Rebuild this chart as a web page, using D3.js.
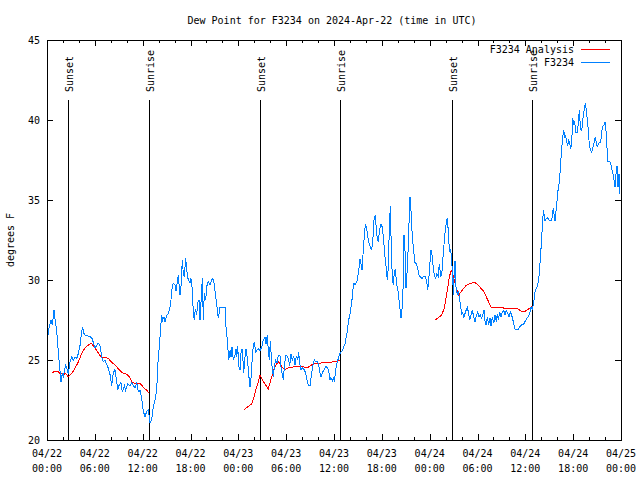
<!DOCTYPE html>
<html><head><meta charset="utf-8">
<script src="https://cdn.jsdelivr.net/npm/d3@7/dist/d3.min.js"></script>
<style>
html,body{margin:0;padding:0;background:#fff;}
svg{display:block;}
text{font-family:"DejaVu Sans Mono","Liberation Mono",monospace;font-size:10px;fill:#000;}
</style></head><body>
<svg id="chart" width="640" height="480"></svg>
<script>
// ---- data (hours since 2024-04-22 00:00 UTC, dew point in °F) ----
const stationHours = [0.00,0.25,0.50,0.66,0.88,1.00,1.22,1.42,1.63,1.76,1.92,2.04,2.17,2.35,2.47,2.67,2.89,3.10,3.30,3.51,3.73,3.93,4.14,4.35,4.48,4.60,4.77,5.18,5.61,5.81,6.02,6.23,6.44,6.65,6.86,7.06,7.28,7.49,7.69,7.90,8.12,8.32,8.53,8.74,8.87,9.03,9.28,9.45,9.70,9.87,10.12,10.41,10.62,10.83,11.04,11.25,11.45,11.67,11.88,12.08,12.29,12.51,12.71,12.92,13.13,13.33,13.55,13.76,13.84,13.96,14.09,14.26,14.39,14.51,14.68,14.80,15.02,15.22,15.43,15.55,15.72,15.84,16.06,16.18,16.35,16.47,16.68,16.81,16.97,17.10,17.22,17.40,17.52,17.72,17.94,18.06,18.23,18.35,18.48,18.60,18.78,18.90,19.07,19.19,19.41,19.48,19.61,19.73,19.91,20.03,20.23,20.45,20.66,20.79,20.95,21.11,21.29,21.49,21.61,21.70,22.33,22.45,22.62,22.79,22.96,23.08,23.21,23.37,23.58,23.71,23.80,23.92,24.05,24.21,24.34,24.50,24.67,24.80,24.96,25.13,25.30,25.46,25.59,25.72,25.88,26.00,26.18,26.31,26.51,26.72,26.93,27.13,27.35,27.47,27.63,27.76,27.89,28.01,28.19,28.39,28.52,28.69,28.85,29.01,29.23,29.35,29.44,29.64,29.77,29.94,30.14,30.32,30.44,30.61,30.77,30.95,31.11,31.27,31.45,31.57,31.70,31.86,32.03,32.24,32.45,32.61,32.78,32.99,33.20,33.40,33.53,33.71,33.87,34.03,34.25,34.37,34.53,34.75,34.96,35.21,35.37,35.50,35.62,35.79,35.96,36.04,36.21,36.38,36.54,36.75,37.04,37.38,37.67,37.80,38.01,38.22,38.35,38.51,38.64,38.76,38.92,39.05,39.17,39.26,39.39,39.51,39.60,39.68,39.80,39.93,40.10,40.23,40.43,40.61,40.73,40.86,41.02,41.18,41.31,41.43,41.56,41.73,41.90,42.06,42.24,42.40,42.56,42.69,42.81,42.94,43.06,43.19,43.32,43.44,43.57,43.69,43.87,44.03,44.16,44.28,44.41,44.53,44.66,44.78,44.91,45.03,45.20,45.32,45.45,45.53,45.66,45.79,45.95,46.16,46.37,46.50,46.66,46.88,47.04,47.20,47.42,47.63,47.76,47.88,48.04,48.17,48.33,48.46,48.58,48.76,48.92,49.08,49.21,49.39,49.51,49.71,49.89,50.05,50.18,50.34,50.47,50.64,50.77,50.89,50.97,51.09,51.18,51.31,51.47,51.60,51.72,51.90,52.02,52.15,52.27,52.43,52.56,52.72,52.85,53.02,53.19,53.35,53.53,53.69,53.85,54.03,54.19,54.35,54.53,54.70,54.82,54.95,55.07,55.23,55.41,55.57,55.70,55.86,56.04,56.20,56.36,56.49,56.61,56.79,56.95,57.11,57.29,57.45,57.61,57.79,57.95,58.12,58.29,58.49,58.71,58.92,59.12,59.33,59.55,59.75,59.96,60.18,60.38,60.59,60.71,60.88,61.05,61.22,61.43,61.63,61.76,61.85,61.97,62.06,62.14,62.26,62.39,62.47,62.60,62.76,62.89,63.10,63.31,63.44,63.51,63.64,63.72,63.85,63.97,64.10,64.23,64.35,64.44,64.56,64.69,64.81,64.94,65.06,65.19,65.32,65.44,65.57,65.69,65.82,65.94,66.07,66.19,66.32,66.52,66.65,66.77,66.90,67.02,67.15,67.27,67.40,67.52,67.65,67.78,67.90,68.03,68.15,68.28,68.40,68.53,68.65,68.78,68.90,69.03,69.15,69.28,69.46,69.58,69.71,69.87,70.00,70.12,70.25,70.33,70.46,70.62,70.75,70.87,71.00,71.12,71.25,71.37,71.50,71.62,71.75,71.84];
const stationValues = [26.1,27.0,27.5,27.2,28.1,27.6,26.8,25.5,24.3,23.6,24.2,23.9,24.3,24.7,24.5,24.1,24.9,25.2,25.0,25.2,25.1,25.4,25.9,26.8,27.05,26.7,26.55,26.5,26.4,26.1,25.75,25.9,26.05,25.9,25.2,24.9,25.0,24.7,24.5,24.1,23.4,24.2,24.4,23.65,23.1,23.4,23.6,23.0,23.4,23.1,23.5,23.4,23.6,23.4,23.25,23.6,23.0,23.1,22.6,21.8,21.45,21.8,21.9,21.05,21.25,22.1,22.5,23.1,24.05,25.2,25.8,27.1,27.8,27.5,27.7,27.4,27.8,27.9,28.3,28.75,29.6,29.8,29.7,29.3,29.9,30.3,29.05,29.6,31.25,30.4,30.2,31.35,30.6,30.0,29.8,30.1,29.4,28.0,27.5,28.2,27.8,28.55,28.75,27.5,29.4,30.1,27.5,29.2,28.75,29.6,29.9,29.7,30.0,30.1,29.8,29.2,28.45,27.6,28.0,28.3,28.3,27.1,26.25,25.0,25.6,25.2,25.8,25.0,25.3,25.7,25.2,25.9,24.6,24.4,25.5,25.7,24.2,25.0,25.7,25.1,24.1,23.3,23.9,24.9,25.9,26.15,25.5,25.6,25.7,25.6,25.8,26.25,26.45,26.0,26.55,25.6,25.0,26.2,24.8,23.95,24.6,25.0,24.8,25.3,25.25,24.6,24.3,23.75,24.6,25.3,25.25,25.0,24.6,25.4,25.0,25.25,24.7,25.25,25.0,25.5,24.8,24.4,24.5,24.4,24.2,23.75,23.4,23.4,24.2,24.8,25.0,24.9,24.9,24.8,24.2,23.95,24.2,24.4,24.6,24.5,24.2,23.75,23.9,23.7,23.9,23.6,24.4,24.8,25.1,25.4,25.6,26.0,26.8,27.4,27.9,28.55,29.3,29.8,29.7,29.8,30.0,30.4,30.9,31.3,31.0,30.6,31.1,32.1,32.7,33.5,33.2,32.7,32.2,32.0,31.9,32.4,33.75,34.05,33.2,32.6,32.4,33.2,33.5,33.3,32.4,31.45,30.7,30.0,30.8,33.2,34.6,32.0,30.0,29.7,30.5,30.7,29.7,29.3,28.75,28.2,27.6,28.2,29.5,32.8,31.8,29.5,30.7,32.2,34.2,35.2,34.3,33.0,32.0,31.1,31.0,30.7,30.3,30.15,30.1,30.2,30.25,29.9,29.4,30.0,31.1,31.9,31.5,30.7,30.3,30.1,30.4,30.25,31.0,30.25,30.3,31.65,32.8,33.45,33.85,33.1,31.8,31.9,31.1,30.3,29.05,30.6,31.2,29.5,29.05,29.3,28.95,28.3,27.8,28.0,27.6,27.9,28.1,28.3,28.0,27.5,27.8,28.1,27.7,27.4,27.8,28.0,27.7,27.8,27.6,27.9,28.1,27.4,27.2,27.7,27.2,27.6,27.1,27.7,27.3,27.8,27.4,27.9,27.5,28.0,27.7,28.0,28.1,27.8,28.1,27.9,27.7,28.0,27.8,27.4,26.9,26.9,26.9,27.1,27.2,27.2,27.4,27.6,27.7,28.0,28.3,28.2,28.6,29.3,29.5,29.9,30.4,31.1,32.0,32.8,33.3,34.4,34.0,33.7,33.8,33.9,33.8,33.7,33.7,34.3,34.5,33.9,33.7,34.3,34.9,35.6,36.0,36.7,37.4,38.2,38.95,39.4,38.95,39.0,38.6,38.4,38.8,38.5,38.2,38.6,40.1,39.7,39.9,39.2,39.2,39.8,40.6,39.6,39.3,39.6,40.3,40.7,41.05,40.6,40.0,39.4,38.4,38.2,38.0,38.1,38.4,38.6,38.95,38.6,38.3,38.5,38.6,38.6,39.3,39.6,39.7,39.9,39.3,38.2,37.4,37.4,37.4,37.2,36.9,36.6,36.25,35.8,36.6,37.1,35.8,36.6,35.4];

// analysis series; null marks a gap between runs
const analysisHours = [0.66,1.00,1.34,1.63,2.04,2.35,2.67,3.01,3.42,3.85,4.27,4.68,5.11,5.52,5.90,6.36,6.77,7.28,7.69,8.12,8.53,8.94,9.45,10.00,10.41,10.70,11.04,11.67,12.08,12.51,12.79,18.0,24.75,25.25,25.68,25.97,26.22,26.51,26.72,27.13,27.76,28.19,28.60,29.01,29.44,29.77,30.27,30.70,31.32,31.95,32.36,32.78,33.20,33.62,34.25,34.87,35.50,36.13,36.75,42.0,48.67,49.08,49.51,49.80,50.05,50.26,50.47,50.64,50.77,51.18,51.60,52.15,52.56,53.19,53.69,54.22,54.77,55.19,55.70,56.32,56.95,57.57,58.29,58.92,59.33,59.75,60.18,60.59,60.88];
const analysisValues = [24.2,24.3,24.3,24.15,24.1,24.15,23.95,24.1,24.4,24.8,25.3,25.7,25.9,26.05,25.85,25.5,25.2,25.15,25.1,24.85,24.7,24.45,24.2,24.1,23.9,23.6,23.55,23.55,23.3,23.1,22.95,null,21.9,22.1,22.25,22.7,23.2,23.65,24.05,23.65,23.2,23.95,24.6,24.9,24.6,24.4,24.5,24.55,24.6,24.6,24.55,24.55,24.7,24.8,24.8,24.85,24.85,24.9,25.0,null,27.5,27.65,27.8,28.2,28.85,29.5,30.2,30.5,30.6,29.8,29.05,29.4,29.65,29.8,29.85,29.6,29.3,28.85,28.3,28.3,28.3,28.2,28.25,28.25,28.1,28.0,28.1,28.25,28.4];

const sunsetHours = [2.67, 26.78, 50.77];
const sunriseHours = [12.83, 36.80, 60.88];
const yTicks = [20, 25, 30, 35, 40, 45];
const xLabelDates = ["04/22","04/22","04/22","04/22","04/23","04/23","04/23","04/23","04/24","04/24","04/24","04/24","04/25"];
const xLabelTimes = ["00:00","06:00","12:00","18:00","00:00","06:00","12:00","18:00","00:00","06:00","12:00","18:00","00:00"];
const seriesNames = ["F3234 Analysis", "F3234"];
const seriesColors = ["#ff0000", "#0080ff"];

// ---- chart ----
const svg = d3.select("#chart");
const L = 47, R = 621, T = 40, B = 440;
const x = d3.scaleLinear().domain([0, 72]).range([L, R]);
const y = d3.scaleLinear().domain([20, 45]).range([B, T]);

// title
svg.append("text").attr("x", 332).attr("y", 24).attr("text-anchor", "middle")
  .text("Dew Point for F3234 on 2024-Apr-22 (time in UTC)");

// y label
svg.append("text").attr("transform", "translate(14,240) rotate(-90)")
  .attr("text-anchor", "middle").text("degrees F");

// axes ticks (inward, mirrored)
const majorX = d3.range(0, 73, 6), minorX = d3.range(0, 73, 2).filter(h => h % 6 !== 0);
function tickAxis(gen, tr) {
  const g = svg.append("g").attr("transform", tr).call(gen);
  g.select(".domain").remove();
  g.selectAll("text").remove();
  g.selectAll("line").attr("stroke", "#000").attr("shape-rendering", "crispEdges");
  return g;
}
tickAxis(d3.axisBottom(x).tickValues(majorX).tickSize(-6), `translate(0,${B})`);
tickAxis(d3.axisBottom(x).tickValues(minorX).tickSize(-3), `translate(0,${B})`);
tickAxis(d3.axisTop(x).tickValues(majorX).tickSize(-6), `translate(0,${T})`);
tickAxis(d3.axisTop(x).tickValues(minorX).tickSize(-3), `translate(0,${T})`);
tickAxis(d3.axisLeft(y).tickValues(yTicks).tickSize(-6), `translate(${L},0)`);
tickAxis(d3.axisRight(y).tickValues(yTicks).tickSize(-6), `translate(${R},0)`);

// y tick labels
svg.append("g").selectAll("text").data(yTicks).join("text")
  .attr("x", 40).attr("y", d => y(d) + 4).attr("text-anchor", "end").text(d => d);

// x tick labels
const xl = svg.append("g").selectAll("text").data(majorX).join("text")
  .attr("text-anchor", "middle");
xl.append("tspan").attr("x", d => x(d)).attr("y", 457).text((d, i) => xLabelDates[i]);
xl.append("tspan").attr("x", d => x(d)).attr("y", 472).text((d, i) => xLabelTimes[i]);

// sun lines
const sun = sunsetHours.map(h => ({h, label: "Sunset"}))
  .concat(sunriseHours.map(h => ({h, label: "Sunrise"})));
svg.append("g").selectAll("line").data(sun).join("line")
  .attr("x1", d => Math.round(x(d.h)) + 0.5).attr("x2", d => Math.round(x(d.h)) + 0.5)
  .attr("y1", 100).attr("y2", B).attr("stroke", "#000").attr("shape-rendering", "crispEdges");
svg.append("g").selectAll("text").data(sun).join("text")
  .attr("transform", d => `translate(${Math.round(x(d.h)) + 5},92) rotate(-90)`)
  .attr("text-anchor", "start").text(d => d.label);

// series
const analysis = analysisHours.map((h, i) => ({h, v: analysisValues[i]}));
const station = stationHours.map((h, i) => ({h, v: stationValues[i]}));
const line = d3.line().defined(d => d.v !== null).x(d => x(d.h)).y(d => y(d.v));
svg.append("path").datum(analysis).attr("d", line).attr("fill", "none")
  .attr("stroke", seriesColors[0]).attr("stroke-width", 1).attr("shape-rendering", "crispEdges");
svg.append("path").datum(station).attr("d", line).attr("fill", "none")
  .attr("stroke", seriesColors[1]).attr("stroke-width", 1).attr("shape-rendering", "crispEdges");

// border
svg.append("rect").attr("x", L + 0.5).attr("y", T + 0.5).attr("width", R - L).attr("height", B - T)
  .attr("fill", "none").attr("stroke", "#000").attr("shape-rendering", "crispEdges");

// legend
const leg = svg.append("g").selectAll("g").data(seriesNames).join("g")
  .attr("transform", (d, i) => `translate(0,${49 + i * 13})`);
leg.append("text").attr("x", 574).attr("y", 4).attr("text-anchor", "end").text(d => d);
leg.append("line").attr("x1", 581).attr("x2", 610).attr("y1", 0.5).attr("y2", 0.5)
  .attr("stroke", (d, i) => seriesColors[i]).attr("shape-rendering", "crispEdges");
</script>
</body></html>
